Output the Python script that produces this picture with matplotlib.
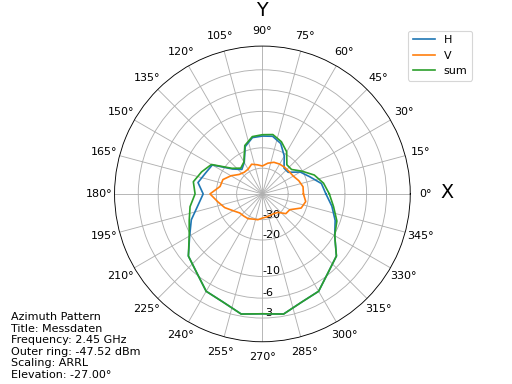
import numpy as np
import matplotlib
matplotlib.use("Agg")
import matplotlib.pyplot as plt

# Azimuth cut, gain in dB relative to the outer ring (-47.52 dBm)
az_deg = list(range(0, 360, 10))
h_db = [-14.5, -15.5, -18.5, -20.9, -25.4, -25.4, -20.9, -17.4, -15.9,
        -16.1, -16.3, -18.5, -24.1, -26.3, -23.0, -16.1, -15.3, -14.0,
        -15.7, -14.0, -11.5, -9.7, -7.3, -6.3, -4.7, -4.3, -3.3,
        -3.6, -3.3, -4.3, -4.7, -6.3, -7.3, -9.8, -11.1, -12.7]
v_db = [-22.0, -21.9, -23.0, -24.4, -24.8, -24.9, -25.0, -25.4, -26.7,
        -28.6, -27.6, -26.5, -28.2, -28.4, -27.2, -24.1, -21.6, -21.2,
        -17.8, -20.3, -22.4, -25.4, -27.6, -28.0, -28.2, -29.3, -29.7,
        -31.1, -31.6, -32.1, -32.1, -31.1, -27.0, -26.5, -21.9, -20.8]
sum_db = [-13.6, -14.9, -16.9, -20.2, -23.3, -23.3, -19.1, -16.8, -15.4,
          -15.7, -16.0, -18.1, -23.8, -25.4, -22.5, -15.8, -14.2, -12.8,
          -13.5, -12.0, -11.0, -9.6, -7.3, -6.3, -4.7, -4.3, -3.3,
          -3.6, -3.3, -4.3, -4.7, -6.3, -7.3, -9.8, -10.7, -12.3]
tick_db = [-3, -6, -10, -20, -30]

info = ("Azimuth Pattern\nTitle: Messdaten\nFrequency: 2.45 GHz\n"
        "Outer ring: -47.52 dBm\nScaling: ARRL\nElevation: -27.00°")


def arrl(db):
    # ARRL scale: every 2 dB shrinks the radius by 0.89
    return 0.89 ** (-np.asarray(db, dtype=float) / 2.0)


def closed(vals):
    return list(vals) + [vals[0]]


fig = plt.figure(figsize=(6.4, 4.8), dpi=80)
ax = fig.add_subplot(111, projection="polar")
theta = np.deg2rad(closed(az_deg))
ax.plot(theta, arrl(closed(h_db)), label="H")
ax.plot(theta, arrl(closed(v_db)), label="V")
ax.plot(theta, arrl(closed(sum_db)), label="sum")

ax.set_rmin(0)
ax.set_rmax(1)
ax.set_rticks(arrl(tick_db))
ax.set_yticklabels([str(t) for t in tick_db])
ax.set_rlabel_position(270)
ax.set_thetagrids(range(0, 360, 15))

ax.legend(loc="upper right", bbox_to_anchor=(472 / 512, 1 - 30.7 / 384),
          bbox_transform=fig.transFigure, borderaxespad=0)
fig.text(262 / 512, 1 - 10 / 384, "Y", fontsize="xx-large", ha="center", va="center")
fig.text(447 / 512, 1 - 192 / 384, "X", fontsize="xx-large", ha="center", va="center")
fig.text(11 / 512, 4 / 384, info, ha="left", va="bottom")

fig.savefig("out.png", dpi=80)
